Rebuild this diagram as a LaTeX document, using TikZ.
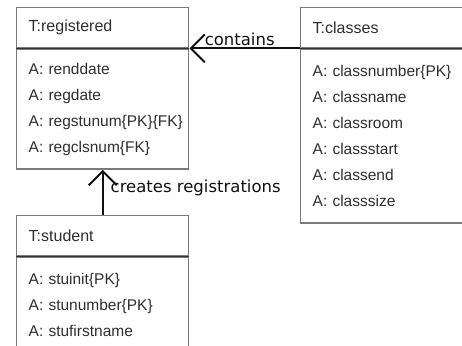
\documentclass[tikz,border=0pt]{standalone}
\usepackage{fontspec}
\setmainfont{Liberation Sans}
\newfontfamily\relfont{DejaVu Sans}
\usetikzlibrary{positioning, arrows.meta}
\definecolor{erBorder}{HTML}{7A7A7A}
\definecolor{erRule}{HTML}{303030}
\definecolor{erText}{HTML}{2E2E2E}
\definecolor{erLine}{HTML}{101010}
\tikzset{
  tablehead/.style={
    rectangle, draw=erBorder, line width=1.4pt,
    anchor=north west,
    text width=148pt, inner xsep=12pt, inner ysep=0pt,
    minimum height=40pt,
    align=left, text=erText,
    font=\fontsize{16}{18}\selectfont
  },
  tablebody/.style={
    rectangle, draw=erBorder, line width=1.4pt,
    text width=148pt, inner xsep=12pt, inner ysep=0pt,
    minimum height=#1,
    align=left, text=erText,
    font=\fontsize{15.5}{26}\selectfont
  },
  headrule/.style={erRule, line width=1.7pt},
  relation/.style={
    -{Straight Barb[length=14pt, width=28pt]},
    erLine, line width=2pt
  },
  rellabel/.style={font=\relfont\fontsize{16.5}{18}\selectfont, text=erLine, inner sep=0pt}
}

\begin{document}
\begin{tikzpicture}[x=1pt, y=-1pt]
  \useasboundingbox (0,0) rectangle (462,345);
  \clip (0,0) rectangle (462,345);
  \node[tablehead] (reghead) at (16,7) {T:registered};
  \node[tablebody=120pt, below=0pt of reghead] (regbody) {A:~renddate\\A:~regdate\\A:~regstunum\{PK\}\{FK\}\\A:~regclsnum\{FK\}};
  \node[tablehead] (clshead) at (300,7) {T:classes};
  \node[tablebody=174pt, below=0pt of clshead] (clsbody) {A:~classnumber\{PK\}\\A:~classname\\A:~classroom\\A:~classstart\\A:~classend\\A:~classsize};
  \node[tablehead] (stuhead) at (16,215) {T:student};
  \node[tablebody=96pt, below=0pt of stuhead] (stubody) {A:~stuinit\{PK\}\\A:~stunumber\{PK\}\\A:~stufirstname};
  \draw[headrule] (reghead.south west) -- (reghead.south east);
  \draw[headrule] (clshead.south west) -- (clshead.south east);
  \draw[headrule] (stuhead.south west) -- (stuhead.south east);
  \draw[relation] (clshead.south west) -- node[rellabel, pos=0.87, anchor=base west, yshift=3pt] (containslbl) {contains} (reghead.south east);
  \draw[relation] (stuhead.north) -- node[rellabel, pos=0.5, anchor=base west, xshift=7pt] (createslbl) {creates registrations} (regbody.south);
\end{tikzpicture}
\end{document}
